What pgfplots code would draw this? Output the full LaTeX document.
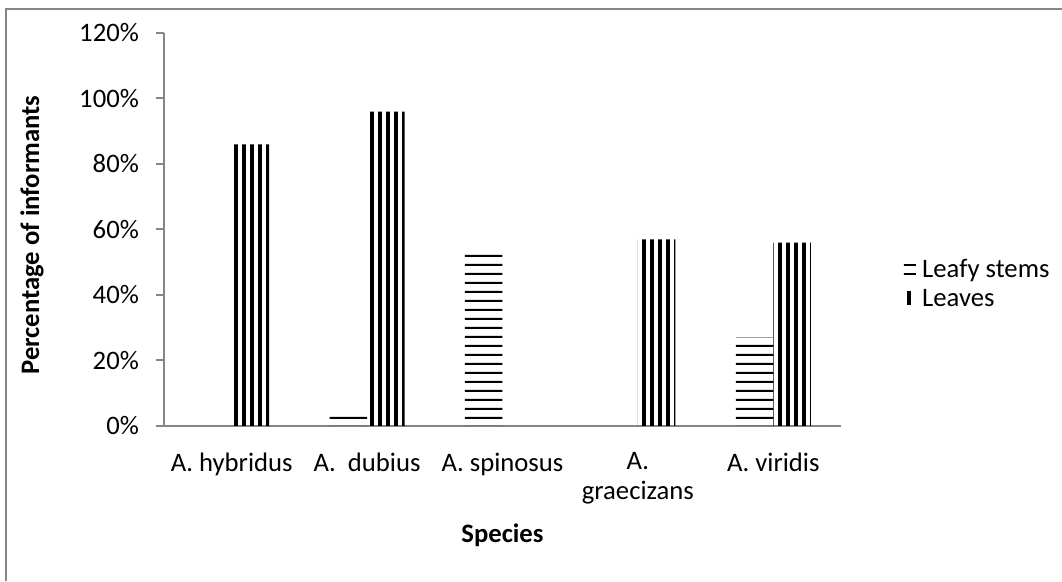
\documentclass[border=0pt]{standalone}
\usepackage{fontspec}
\setmainfont{Carlito}
\usepackage{pgfplots}
\pgfplotsset{compat=1.18}
\usetikzlibrary{patterns}

\pgfdeclarepatternformonly{vstripes}{\pgfqpoint{0pt}{0pt}}{\pgfqpoint{3.15pt}{200pt}}{\pgfqpoint{3.15pt}{200pt}}{\pgfpathrectangle{\pgfqpoint{0pt}{0pt}}{\pgfqpoint{1.6pt}{200pt}}\pgfusepath{fill}}
\pgfdeclarepatternformonly{hstripes}{\pgfqpoint{0pt}{0pt}}{\pgfqpoint{200pt}{3.19pt}}{\pgfqpoint{200pt}{3.19pt}}{\pgfpathrectangle{\pgfqpoint{0pt}{0pt}}{\pgfqpoint{200pt}{0.8pt}}\pgfusepath{fill}}

\definecolor{axgray}{RGB}{134,134,134}

\begin{document}
\fontsize{10}{11.3}\selectfont
\begin{tikzpicture}[font=\fontsize{10}{11.3}\selectfont]
\useasboundingbox (0,0) rectangle (398.25pt,217.875pt);
\draw[axgray, line width=0.75pt] (2.25pt,0) -- (2.25pt,214.5pt) -- (398.25pt,214.5pt);
\begin{axis}[
  at={(61.5pt,58.125pt)}, anchor=south west,
  scale only axis, width=253.875pt, height=147.375pt,
  xmin=-0.5, xmax=4.5, ymin=0, ymax=120,
  axis x line*=bottom, axis y line*=left,
  x axis line style={-, draw=axgray, line width=0.75pt},
  y axis line style={-, draw=axgray, line width=0.75pt},
  xtick={0,1,2,3,4},
  xticklabels={A. hybridus, A.\ \ dubius, A. spinosus, {A.\\graecizans}, A. viridis},
  xticklabel style={align=center, anchor=north, yshift=-3.5pt},
  major x tick style={draw=none},
  ytick={0,20,40,60,80,100,120},
  yticklabels={0\%,20\%,40\%,60\%,80\%,100\%,120\%},
  yticklabel style={xshift=-2.9pt},
  major y tick style={draw=axgray, line width=0.75pt},
  tick align=outside, major tick length=3pt,
  every axis x label/.style={at={(axis description cs:0.5,-0.277)}, anchor=center},
  every axis y label/.style={at={(axis description cs:-0.195,0.486)}, anchor=center, rotate=90},
  xlabel={\bfseries Species},
  ylabel={\bfseries Percentage of informants},
  legend style={at={(1.092,0.356)}, anchor=west, draw=none, fill=none, inner sep=0pt, row sep=0pt,
    font=\fontsize{10}{11.3}\selectfont, nodes={inner sep=0.6pt, text height=7pt, text depth=2.5pt},
    /tikz/every odd column/.style={column sep=1.8pt}},
  legend cell align=left,
  legend image code/.code={\fill[#1] (0pt,-1.6pt) rectangle (4.5pt,3.2pt);},
  clip=false,
]
\addplot[ybar, bar width=0.277, bar shift=-0.1385, draw=none, pattern=hstripes, pattern color=black]
  coordinates {(1,4) (2,53) (4,27)};
\addlegendentry{Leafy stems}
\addplot[ybar, bar width=0.277, bar shift=0.1385, draw=none, pattern=vstripes, pattern color=black]
  coordinates {(0,86) (1,96) (3,57) (4,56)};
\addlegendentry{Leaves}
\end{axis}
\end{tikzpicture}
\end{document}
